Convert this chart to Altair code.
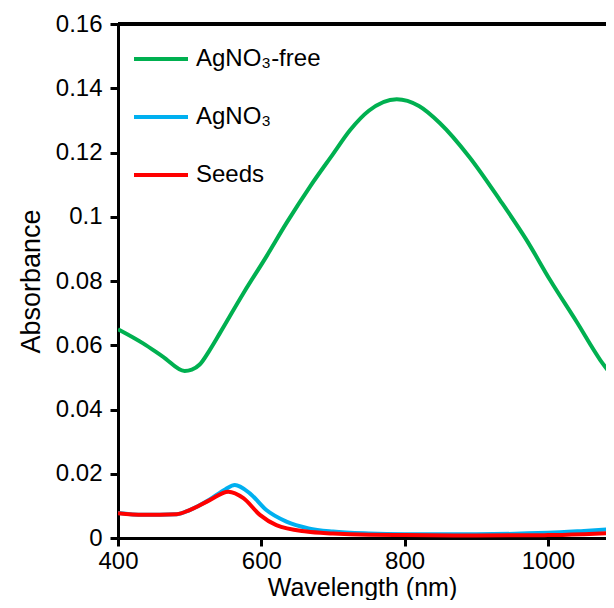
import altair as alt
import pandas as pd

series_names = ["AgNO₃-free", "AgNO₃", "Seeds"]
series_colors = ["#00B050", "#00B0F0", "#FF0000"]

wl_free = [400, 435, 463, 493, 503, 514, 528, 542, 575, 607, 635, 668, 700, 724, 750, 789, 820, 849, 890, 933, 970, 1003, 1040, 1073, 1092]
abs_free = [0.0650, 0.0606, 0.0564, 0.0520, 0.0524, 0.0540, 0.0585, 0.0637, 0.0762, 0.0876, 0.0980, 0.1094, 0.1195, 0.1270, 0.1330, 0.1366, 0.1345, 0.1292, 0.1187, 0.1052, 0.0928, 0.0803, 0.0673, 0.0554, 0.0498]

wl_agno3 = [400, 435, 482, 500, 528, 550, 563, 584, 607, 635, 666, 700, 750, 800, 900, 1000, 1050, 1092]
abs_agno3 = [0.0078, 0.0072, 0.0074, 0.0087, 0.0120, 0.0152, 0.0165, 0.0139, 0.0087, 0.0051, 0.0030, 0.0020, 0.0014, 0.0012, 0.0012, 0.0016, 0.0022, 0.0028]

wl_seeds = [400, 435, 482, 500, 528, 554, 575, 598, 621, 663, 700, 750, 800, 900, 1000, 1050, 1092]
abs_seeds = [0.0077, 0.0072, 0.0074, 0.0087, 0.0118, 0.0144, 0.0124, 0.0072, 0.0040, 0.0020, 0.0014, 0.0010, 0.0009, 0.0008, 0.0009, 0.0012, 0.0016]

x_ticks = [400, 600, 800, 1000]
y_ticks = [0, 0.02, 0.04, 0.06, 0.08, 0.1, 0.12, 0.14, 0.16]

rows = []
for name, wls, vals in [(series_names[0], wl_free, abs_free),
                        (series_names[1], wl_agno3, abs_agno3),
                        (series_names[2], wl_seeds, abs_seeds)]:
    for w, a in zip(wls, vals):
        rows.append({"series": name, "wl": w, "abs": a})
df = pd.DataFrame(rows)

W = 488
H = 514
FONT = "Liberation Sans"

lines = alt.Chart(df).mark_line(strokeWidth=4, interpolate="monotone", clip=True).encode(
    x=alt.X("wl:Q", scale=alt.Scale(domain=[400, 1081], nice=False, zero=False),
            axis=alt.Axis(title="Wavelength (nm)", values=x_ticks, grid=False, format="d",
                          labelFontSize=24, titleFontSize=25, titleFontWeight="normal",
                          labelPadding=3, titlePadding=2, tickSize=8, tickWidth=3,
                          domainWidth=3, domainColor="black", tickColor="black",
                          labelColor="black", titleColor="black", labelFont=FONT, titleFont=FONT,
                          labelFlush=False, labelOverlap=False)),
    y=alt.Y("abs:Q", scale=alt.Scale(domain=[0, 0.16], nice=False),
            axis=alt.Axis(title="Absorbance", values=y_ticks, grid=False,
                          labelExpr="datum.value == 0 ? '0' : format(datum.value, '.2~f')",
                          labelFontSize=24, titleFontSize=27, titleFontWeight="normal",
                          labelPadding=8, titlePadding=10, tickSize=8, tickWidth=3,
                          domainWidth=3, domainColor="black", tickColor="black",
                          labelColor="black", titleColor="black", labelFont=FONT, titleFont=FONT)),
    color=alt.Color("series:N", sort=series_names,
                    scale=alt.Scale(domain=series_names, range=series_colors),
                    legend=alt.Legend(title=None, orient="none", legendX=14, legendY=6,
                                      symbolType="stroke", symbolSize=2916, symbolStrokeWidth=4,
                                      labelFontSize=24, labelFont=FONT, labelColor="black",
                                      labelOffset=6, rowPadding=17, padding=0)),
    order=alt.Order("wl:Q"),
)

top_line = alt.Chart(df).mark_rule(color="black", strokeWidth=3).encode(
    x=alt.value(0), x2=alt.value(W), y=alt.value(0)
)

chart = alt.layer(lines, top_line).properties(
    width=W, height=H,
    autosize=alt.AutoSizeParams(type="none"),
    padding={"left": 110, "top": 16, "right": 0, "bottom": 62},
).configure_view(stroke=None)

chart.save("out.html", embed_options={"renderer": "svg", "actions": False})
